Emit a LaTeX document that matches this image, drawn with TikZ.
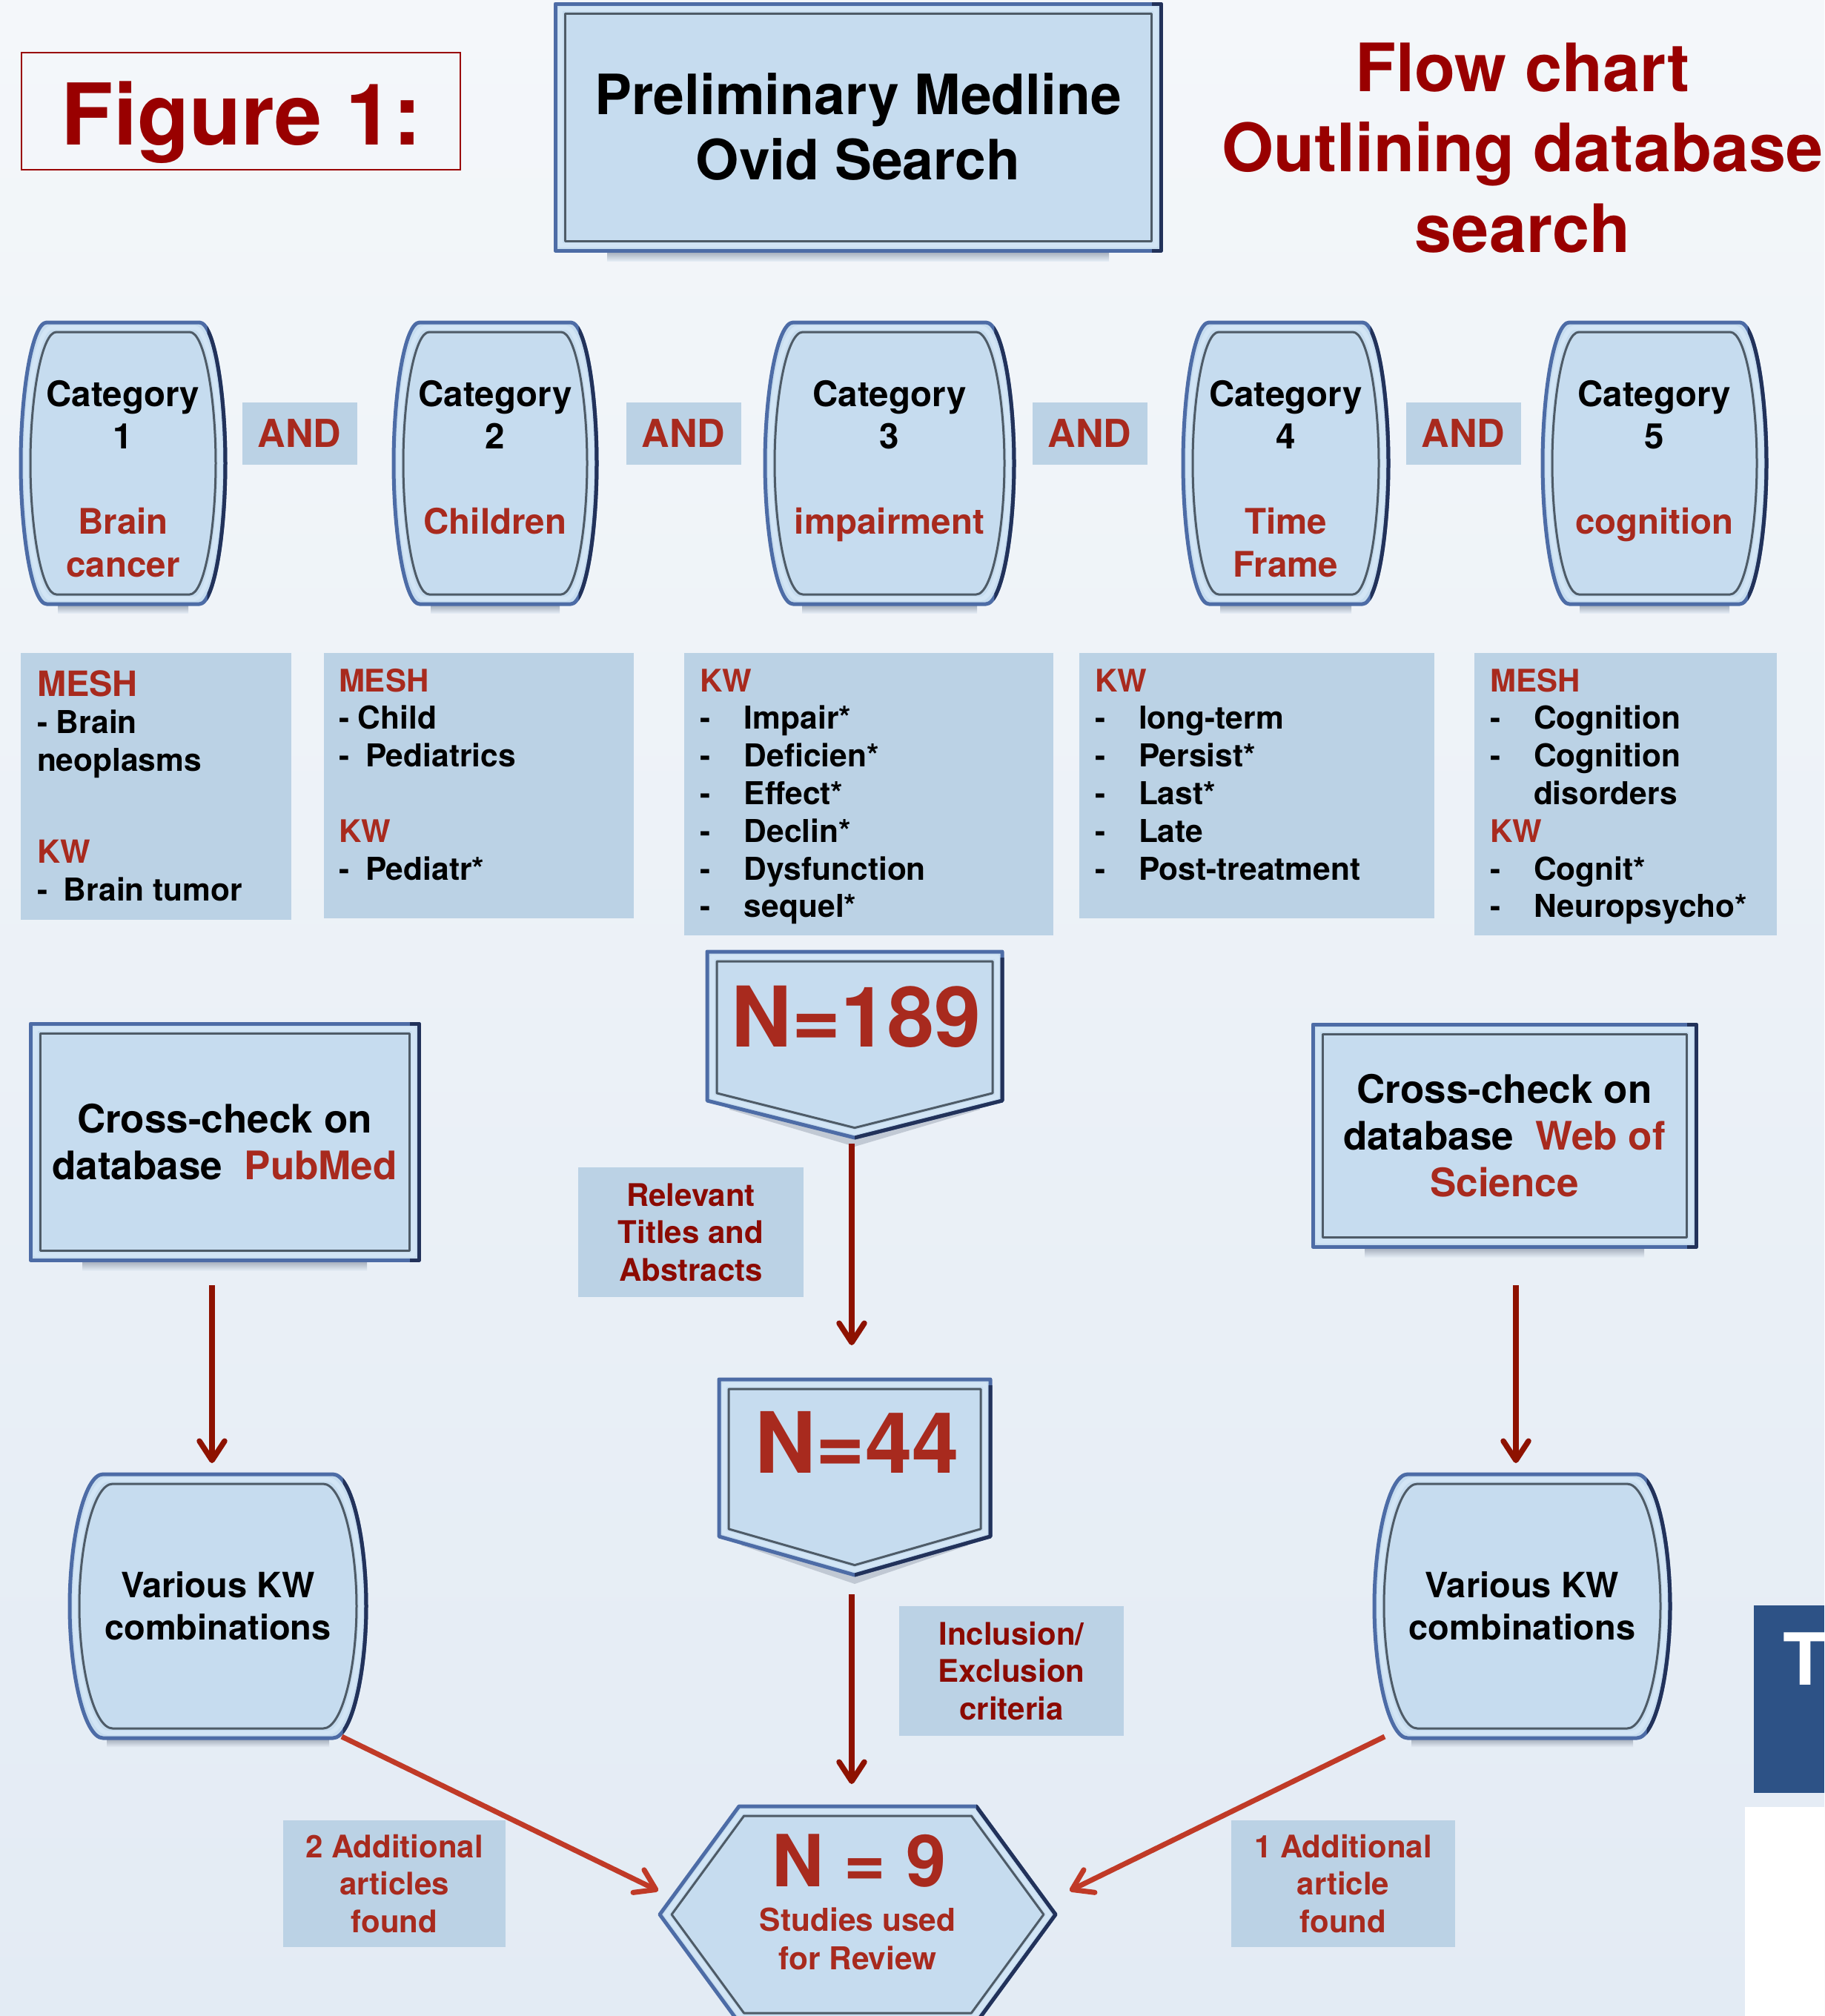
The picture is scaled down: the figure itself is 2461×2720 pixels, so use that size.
\documentclass[tikz,border=0pt]{standalone}
\usepackage{fontspec}
\setmainfont{TeX Gyre Heros}
\usetikzlibrary{arrows.meta}
\definecolor{bgtop}{HTML}{F4F7FA}
\definecolor{bgbot}{HTML}{E3EBF4}
\definecolor{shapefill}{HTML}{C6DCEF}
\definecolor{flatfill}{HTML}{BBD2E5}
\definecolor{outerc}{HTML}{4D6CA6}
\definecolor{navyc}{HTML}{22325A}
\definecolor{bandc}{HTML}{D2E5F5}
\definecolor{innerc}{HTML}{4E5B67}
\definecolor{shadowc}{HTML}{9AA4B2}
\definecolor{redA}{HTML}{A82A1E}
\definecolor{redD}{HTML}{8B0A02}
\definecolor{figred}{HTML}{990000}
\definecolor{arrdc}{HTML}{8E1200}
\definecolor{arroc}{HTML}{C03A27}
\definecolor{tblue}{HTML}{2D5286}

\newcommand\hv[2]{\fontsize{#1pt}{#2pt}\selectfont}
\newcommand\tstrut{\rule{0pt}{0.75em}}

\newcommand\rectpath[5]{({(#1)+(#5)},{(#2)+(#5)}) rectangle ({(#3)-(#5)},{(#4)-(#5)})}
\newcommand\barrelpath[6]{({(#1)+(#6)+(#5)},{(#2)+(#6)}) -- ({(#3)-(#6)-(#5)},{(#2)+(#6)}) .. controls ({(#3)-(#6)-0.43*(#5)},{(#2)+(#6)}) and ({(#3)-(#6)},{(#2)+(#6)+0.25*((#4)-(#2)-2*(#6))}) .. ({(#3)-(#6)},{((#2)+(#4))/2}) .. controls ({(#3)-(#6)},{(#4)-(#6)-0.25*((#4)-(#2)-2*(#6))}) and ({(#3)-(#6)-0.43*(#5)},{(#4)-(#6)}) .. ({(#3)-(#6)-(#5)},{(#4)-(#6)}) -- ({(#1)+(#6)+(#5)},{(#4)-(#6)}) .. controls ({(#1)+(#6)+0.43*(#5)},{(#4)-(#6)}) and ({(#1)+(#6)},{(#4)-(#6)-0.25*((#4)-(#2)-2*(#6))}) .. ({(#1)+(#6)},{((#2)+(#4))/2}) .. controls ({(#1)+(#6)},{(#2)+(#6)+0.25*((#4)-(#2)-2*(#6))}) and ({(#1)+(#6)+0.43*(#5)},{(#2)+(#6)}) .. cycle}
\newcommand\pentpath[6]{({(#1)+(#6)},{(#2)+(#6)}) -- ({(#3)-(#6)},{(#2)+(#6)}) -- ({(#3)-(#6)},{(#4)-0.78*(#6)}) -- ({((#1)+(#3))/2},{(#5)-1.03*(#6)}) -- ({(#1)+(#6)},{(#4)-0.78*(#6)}) -- cycle}
\newcommand\hexpath[8]{({(#1)+1.24*(#8)},{#6}) -- ({(#2)+0.51*(#8)},{(#5)+(#8)}) -- ({(#3)-0.51*(#8)},{(#5)+(#8)}) -- ({(#4)-1.24*(#8)},{#6}) -- ({(#3)-0.51*(#8)},{(#7)-(#8)}) -- ({(#2)+0.51*(#8)},{(#7)-(#8)}) -- cycle}

\newcommand\rectframe[4]{%
  \shade[top color=shadowc, bottom color=bgbot] ({(#1)+70},{#4}) rectangle ({(#3)-70},{(#4)+14});
  \draw[frameouter] \rectpath{#1}{#2}{#3}{#4}{0};
  \begin{scope}\clip ({(#3)-12},{(#2)-10}) rectangle ({(#3)+10},{(#4)+10});
  \draw[outernavy] \rectpath{#1}{#2}{#3}{#4}{0};\end{scope}
  \draw[frameband] \rectpath{#1}{#2}{#3}{#4}{7};
  \draw[frameinner] \rectpath{#1}{#2}{#3}{#4}{13};
}
\newcommand\barrelframe[5]{%
  \shade[top color=shadowc, bottom color=bgbot] ({(#1)+50},{#4}) rectangle ({(#3)-50},{(#4)+12});
  \draw[frameouter] \barrelpath{#1}{#2}{#3}{#4}{#5}{0};
  \begin{scope}\clip ({(#3)-0.7*(#5)},{(#2)+4}) rectangle ({(#3)+10},{(#4)+10});
  \draw[outernavy] \barrelpath{#1}{#2}{#3}{#4}{#5}{0};\end{scope}
  \draw[frameband] \barrelpath{#1}{#2}{#3}{#4}{#5}{7};
  \draw[frameinner] \barrelpath{#1}{#2}{#3}{#4}{#5}{13};
}
\newcommand\pentframe[5]{%
  \fill[shadowc, opacity=0.5] \pentpath{(#1)+30}{(#2)+12}{(#3)-30}{(#4)+12}{(#5)+12}{0};
  \draw[frameouter] \pentpath{#1}{#2}{#3}{#4}{#5}{0};
  \begin{scope}\clip ({((#1)+(#3))/2},{(#2)+8}) rectangle ({(#3)+10},{(#5)+10});
  \draw[outernavy] \pentpath{#1}{#2}{#3}{#4}{#5}{0};\end{scope}
  \draw[frameband] \pentpath{#1}{#2}{#3}{#4}{#5}{7};
  \draw[frameinner] \pentpath{#1}{#2}{#3}{#4}{#5}{13};
}
\newcommand\hexframe[7]{%
  \draw[frameouter] \hexpath{#1}{#2}{#3}{#4}{#5}{#6}{#7}{0};
  \begin{scope}\clip ({#3},{(#5)-10}) rectangle ({(#4)+10},{(#7)+10});
  \draw[outernavy] \hexpath{#1}{#2}{#3}{#4}{#5}{#6}{#7}{0};\end{scope}
  \draw[frameband] \hexpath{#1}{#2}{#3}{#4}{#5}{#6}{#7}{7};
  \draw[frameinner] \hexpath{#1}{#2}{#3}{#4}{#5}{#6}{#7}{13};
}

\begin{document}
\begin{tikzpicture}[x=1pt,y=-1pt,
  frameouter/.style={fill=shapefill, draw=outerc, line width=5pt, line join=round},
  outernavy/.style={draw=navyc, line width=5pt, line join=round},
  frameband/.style={draw=bandc, line width=6pt, line join=round},
  frameinner/.style={draw=innerc, line width=3pt, line join=round},
  flat/.style={fill=flatfill, draw=none, inner sep=0pt, outer sep=0pt},
  sh/.style={draw=none, inner sep=0pt, outer sep=0pt},
  tx/.style={inner sep=0pt, outer sep=0pt},
  darrow/.style={draw=arrdc, line width=7.5pt, -{Straight Barb[length=26pt,width=34pt,round]}},
  oarrow/.style={draw=arroc, line width=7pt, -{Straight Barb[length=26pt,width=34pt,round]}}]

\useasboundingbox (0,0) rectangle (2461,2720);
\shade[top color=bgtop, bottom color=bgbot] (0,0) rectangle (2461,2720);

% ---------- decorative frames ----------
\rectframe{749}{5}{1566}{338}
\rectframe{41}{1381}{565}{1700}
\rectframe{1771}{1382}{2288}{1682}
\barrelframe{28}{435}{304}{815}{35}
\barrelframe{531}{435}{805}{815}{35}
\barrelframe{1032}{435}{1368}{815}{38}
\barrelframe{1596}{435}{1873}{815}{35}
\barrelframe{2081}{435}{2383}{815}{36}
\barrelframe{94}{1989}{494}{2345}{45}
\barrelframe{1854}{1989}{2253}{2345}{45}
\pentframe{954}{1284}{1352}{1485}{1535}
\pentframe{970}{1861}{1336}{2073}{2125}
\hexframe{890}{997}{1317}{1424}{2437}{2583}{2729}

% ---------- header ----------
\node[sh, draw=figred, line width=2.5pt, minimum width=592pt, minimum height=158pt] (fig) at (325,150) {};
\node[tx, anchor=base, text=figred, font={\bfseries\hv{115}{130}}] (figtxt) at (326,195) {Figure 1:};
\node[sh, minimum width=817pt, minimum height=333pt, align=center, font={\bfseries\hv{75}{88}}] (prelim) at (1157.5,171.5) {Preliminary Medline\\Ovid Search};
\node[tx, anchor=north, align=center, text=figred, font={\bfseries\hv{90}{108.5}}] (title) at (2054,55.5) {\tstrut Flow chart\\Outlining database\\search};

% ---------- categories ----------
\node[sh, minimum width=276pt, minimum height=380pt] (cat1) at (166,625) {};
\node[sh, minimum width=274pt, minimum height=380pt] (cat2) at (668,625) {};
\node[sh, minimum width=336pt, minimum height=380pt] (cat3) at (1200,625) {};
\node[sh, minimum width=277pt, minimum height=380pt] (cat4) at (1734.5,625) {};
\node[sh, minimum width=302pt, minimum height=380pt] (cat5) at (2232,625) {};
\tikzset{cattxt/.style={tx, anchor=north, align=center, font={\bfseries\hv{47.5}{57.5}}}}
\node[cattxt] (c1t) at (166,512.4) {\tstrut Category\\1\\[57.5pt]\textcolor{redA}{Brain}\\\textcolor{redA}{cancer}};
\node[cattxt] (c2t) at (668,512.4) {\tstrut Category\\2\\[57.5pt]\textcolor{redA}{Children}};
\node[cattxt] (c3t) at (1200,512.4) {\tstrut Category\\3\\[57.5pt]\textcolor{redA}{impairment}};
\node[cattxt] (c4t) at (1734.5,512.4) {\tstrut Category\\4\\[57.5pt]\textcolor{redA}{Time}\\\textcolor{redA}{Frame}};
\node[cattxt] (c5t) at (2232,512.4) {\tstrut Category\\5\\[57.5pt]\textcolor{redA}{cognition}};

\tikzset{andbox/.style={flat, minimum width=155pt, minimum height=84pt, text=redA, font={\bfseries\hv{52}{60}}}}
\node[andbox] (and1) at (404,585) {AND};
\node[andbox] (and2) at (922,585) {AND};
\node[andbox] (and3) at (1470,585) {AND};
\node[andbox] (and4) at (1974,585) {AND};

% ---------- keyword boxes ----------
\node[flat, minimum width=365pt, minimum height=360pt] (kw1) at (210.5,1061) {};
\node[flat, minimum width=418pt, minimum height=358pt] (kw2) at (646,1060) {};
\node[flat, minimum width=498pt, minimum height=381pt] (kw3) at (1172,1071.5) {};
\node[flat, minimum width=479pt, minimum height=358pt] (kw4) at (1695.5,1060) {};
\node[flat, minimum width=408pt, minimum height=381pt] (kw5) at (2193,1071.5) {};
\tikzset{kwtxt/.style={tx, anchor=north west, align=left, font={\bfseries\hv{42.5}{50.8}}}}
\node[kwtxt] (kw1t) at (50,903.75) {\textcolor{redA}{\hv{47}{50.8}\tstrut MESH}\\- Brain\\neoplasms\\[73pt]\textcolor{redA}{\hv{43}{50.8}KW}\\\makebox[36pt][l]{-}Brain tumor};
\node[kwtxt] (kw2t) at (457,901.5) {\textcolor{redA}{\hv{42}{50.8}\tstrut MESH}\\- Child\\\makebox[36pt][l]{-}Pediatrics\\[50.8pt]\textcolor{redA}{\hv{42}{50.8}KW}\\\makebox[36pt][l]{-}Pediatr*};
\node[kwtxt] (kw3t) at (944,901.5) {\textcolor{redA}{\hv{42}{50.8}\tstrut KW}\\\makebox[60pt][l]{-}Impair*\\\makebox[60pt][l]{-}Deficien*\\\makebox[60pt][l]{-}Effect*\\\makebox[60pt][l]{-}Declin*\\\makebox[60pt][l]{-}Dysfunction\\\makebox[60pt][l]{-}sequel*};
\node[kwtxt] (kw4t) at (1477,901.5) {\textcolor{redA}{\hv{42}{50.8}\tstrut KW}\\\makebox[59pt][l]{-}long-term\\\makebox[59pt][l]{-}Persist*\\\makebox[59pt][l]{-}Last*\\\makebox[59pt][l]{-}Late\\\makebox[59pt][l]{-}Post-treatment};
\node[kwtxt] (kw5t) at (2010,901.5) {\textcolor{redA}{\hv{42}{50.8}\tstrut MESH}\\\makebox[59pt][l]{-}Cognition\\\makebox[59pt][l]{-}Cognition\\\makebox[59pt][l]{}disorders\\\textcolor{redA}{\hv{42}{50.8}KW}\\\makebox[59pt][l]{-}Cognit*\\\makebox[59pt][l]{-}Neuropsycho*};

% ---------- N boxes ----------
\node[sh, minimum width=398pt, minimum height=251pt] (n189) at (1153,1409.5) {};
\node[tx, anchor=base, text=redA, font={\bfseries\hv{113}{130}}] (n189t) at (1155,1412) {N=189};
\node[sh, minimum width=366pt, minimum height=264pt] (n44) at (1153,1993) {};
\node[tx, anchor=base, text=redA, font={\bfseries\hv{114}{130}}] (n44t) at (1156,1987) {N=44};
\node[sh, minimum width=534pt, minimum height=292pt] (n9) at (1157,2583) {};
\node[tx, anchor=base, text=redA, font={\bfseries\hv{97}{110}}] (n9t) at (1159,2545) {N = 9};
\node[tx, anchor=north, align=center, text=redA, font={\bfseries\hv{42.5}{52}}] (n9s) at (1157,2573.1) {\tstrut Studies used\\for Review};

% ---------- labels ----------
\tikzset{lab/.style={flat, align=center, font={\bfseries\hv{42}{50.5}}}}
\node[lab, text=redD, minimum width=304pt, minimum height=175pt] (rel) at (932,1662.5) {Relevant\\Titles and\\Abstracts};
\node[lab, text=redD, minimum width=303pt, minimum height=175pt] (incl) at (1364.5,2254.5) {Inclusion/\\Exclusion\\criteria};
\node[lab, text=redA, minimum width=300pt, minimum height=171pt] (add2) at (532,2541.5) {2 Additional\\articles\\found};
\node[lab, text=redA, minimum width=302pt, minimum height=171pt] (add1) at (1812,2541.5) {1 Additional\\article\\found};

% ---------- cross-check and various KW ----------
\node[sh, minimum width=524pt, minimum height=319pt, align=center, font={\bfseries\hv{53}{63}}] (pubmed) at (303,1540.5) {Cross-check on\\database \ \textcolor{redA}{PubMed}};
\node[sh, minimum width=517pt, minimum height=300pt, align=center, font={\bfseries\hv{53}{63}}] (web) at (2029.5,1532) {Cross-check on\\database \ \textcolor{redA}{Web of}\\\textcolor{redA}{Science}};
\node[sh, minimum width=400pt, minimum height=356pt, align=center, font={\bfseries\hv{47}{57}}] (vkl) at (294,2167) {Various KW\\combinations};
\node[sh, minimum width=399pt, minimum height=356pt, align=center, font={\bfseries\hv{47}{57}}] (vkr) at (2053.5,2167) {Various KW\\combinations};

% ---------- right edge fragment ----------
\node[sh, fill=tblue, minimum width=95pt, minimum height=253pt, anchor=north west] (tbox) at (2366,2166) {};
\node[tx, anchor=base west, text=white, font={\bfseries\hv{97}{110}}] (ttxt) at (2405,2273) {T};
\node[sh, fill=white, minimum width=107pt, minimum height=282pt, anchor=north west] (wbox) at (2354,2438) {};

% ---------- connectors ----------
\draw[darrow, shorten <=8pt, shorten >=46pt] ([xshift=-4pt]n189.south) -- ([xshift=-4pt]n44.north);
\draw[darrow, shorten <=26pt, shorten >=30pt] ([xshift=-4pt]n44.south) -- ([xshift=-8pt]n9.north);
\draw[darrow, shorten <=34pt, shorten >=15pt] ([xshift=-17pt]pubmed.south) -- ([xshift=-8pt]vkl.north);
\draw[darrow, shorten <=52pt, shorten >=15pt] ([xshift=15.5pt]web.south) -- ([xshift=-8.5pt]vkr.north);
\draw[oarrow] ([xshift=-33pt,yshift=2pt]vkl.south east) -- ([xshift=-2pt,yshift=32pt]n9.west);
\draw[oarrow] ([xshift=14pt,yshift=2pt]vkr.south west) -- ([xshift=19pt,yshift=32pt]n9.east);
\end{tikzpicture}
\end{document}
